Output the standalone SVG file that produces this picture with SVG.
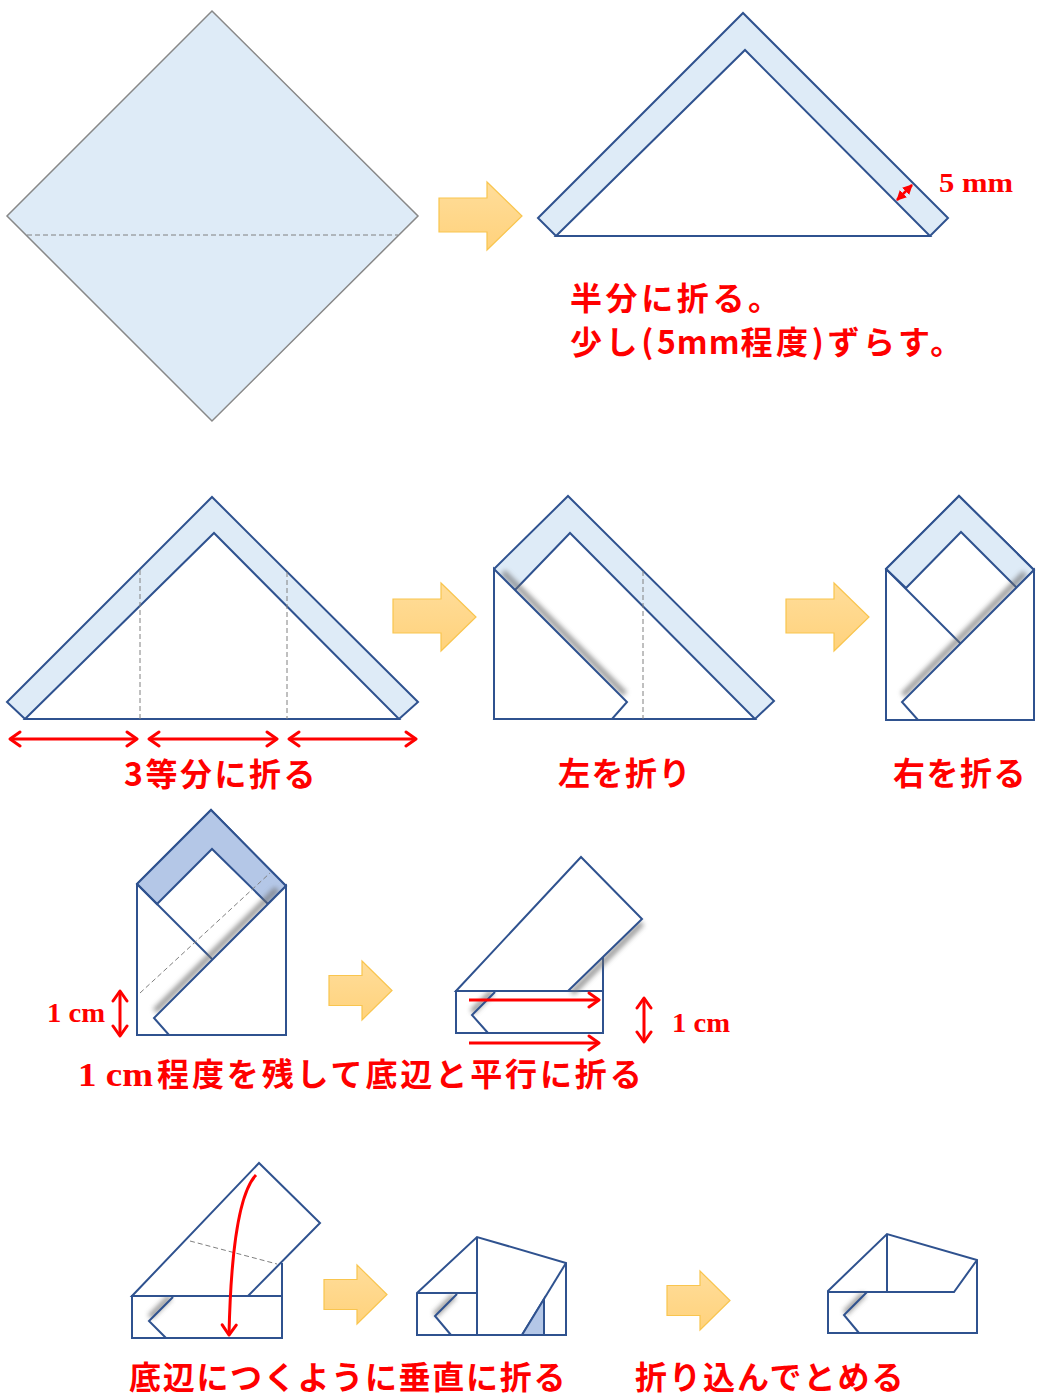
<svg xmlns="http://www.w3.org/2000/svg" width="1037" height="1397" viewBox="0 0 1037 1397">
  <style>
    .paper{fill:#DEEBF7;stroke:#2F528F;stroke-width:2;stroke-linejoin:miter}
    .dark{fill:#B4C7E7;stroke:#2F528F;stroke-width:2}
    .sheet{fill:#FFFFFF;stroke:#2F528F;stroke-width:2}
    .edge{fill:none;stroke:#2F528F;stroke-width:2}
    .crease{fill:none;stroke:#808080;stroke-width:1;stroke-dasharray:5 3}
    .red{fill:none;stroke:#FF0000;stroke-width:3}
    .jp{font-family:"Noto Sans CJK JP","Noto Sans CJK SC",sans-serif;font-weight:bold;fill:#FF0000;font-size:32px}
    .num{font-family:"Liberation Serif",serif;font-weight:bold;fill:#FF0000}
    .shade{fill:none;stroke:#6E6E6E;stroke-width:6;filter:url(#blur);opacity:.7}
    .step{fill:url(#gold);stroke:#F9C54E;stroke-width:1.2}
  </style>
  <defs>
    <linearGradient id="gold" x1="0" y1="0" x2="0" y2="1">
      <stop offset="0" stop-color="#FFDD9A"/>
      <stop offset="1" stop-color="#FFD27C"/>
    </linearGradient>
    <filter id="blur" x="-30%" y="-30%" width="160%" height="160%">
      <feGaussianBlur stdDeviation="2.5"/>
    </filter>
    <marker id="chev" viewBox="0 0 14 18" refX="12" refY="9" markerWidth="14" markerHeight="18" markerUnits="userSpaceOnUse" orient="auto-start-reverse">
      <path d="M2,2 L12,9 L2,16" fill="none" stroke="#FF0000" stroke-width="3" stroke-linecap="round" stroke-linejoin="round"/>
    </marker>
    <marker id="tri" viewBox="0 0 10 10" refX="9" refY="5" markerWidth="10" markerHeight="10" markerUnits="userSpaceOnUse" orient="auto-start-reverse">
      <path d="M0,0 L10,5 L0,10 Z" fill="#FF0000"/>
    </marker>
    <path id="bigArrow" d="M0,16 H48 V0 L83,34 L48,68 V50 H0 Z"/>
    <path id="smallArrow" d="M0,14.5 H33 V0 L63,29.5 L33,59 V44.5 H0 Z"/>
  </defs>

  <rect width="1037" height="1397" fill="#FFFFFF"/>

  <!-- step 1: square sheet with the centre crease -->
  <g id="square">
    <polygon points="212,11 418,216 212,421 7,216" fill="#DEEBF7" stroke="#888888" stroke-width="1.5"/>
    <line x1="27" y1="235" x2="398" y2="235" class="crease"/>
  </g>

  <!-- step 2: folded in half, 5 mm offset -->
  <g id="half">
    <polygon class="paper" points="538,218 743,13 948,218 930,236 556,236"/>
    <polygon class="sheet" points="556,236 745,50 930,236"/>
    <line x1="556" y1="236" x2="930" y2="236" class="edge" stroke-width="2.5"/>
    <line x1="897" y1="200" x2="912" y2="185" stroke="#FF0000" stroke-width="2.5" marker-start="url(#tri)" marker-end="url(#tri)"/>
    <text class="num" x="939" y="192" font-size="28" textLength="74" lengthAdjust="spacingAndGlyphs">5 mm</text>
    <text class="jp" x="570" y="310" letter-spacing="3.6">半分に折る。</text>
    <text class="jp" x="570" y="354" letter-spacing="3.6">少し(<tspan letter-spacing="1">5mm</tspan>程度)ずらす。</text>
  </g>

  <!-- step 3: thirds -->
  <g id="thirds">
    <polygon class="paper" points="7,702 212,497 418,702 399,719 25,719"/>
    <polygon class="sheet" points="25,719 214,533 399,719"/>
    <line x1="140" y1="570" x2="140" y2="719" class="crease"/>
    <line x1="287" y1="572" x2="287" y2="719" class="crease"/>
    <line x1="10" y1="739" x2="137" y2="739" class="red" marker-start="url(#chev)" marker-end="url(#chev)"/>
    <line x1="149" y1="739" x2="277" y2="739" class="red" marker-start="url(#chev)" marker-end="url(#chev)"/>
    <line x1="289" y1="739" x2="416" y2="739" class="red" marker-start="url(#chev)" marker-end="url(#chev)"/>
    <text class="jp" x="124" y="786" font-size="34" letter-spacing="2.5">3等分に折る</text>
  </g>

  <!-- step 4: left side folded -->
  <g id="fold-left">
    <polygon class="paper" points="494,569 568,496 774,701 755,719 494,719"/>
    <polygon class="sheet" points="515,590 570,533 755,719 494,719"/>
    <line x1="643" y1="571" x2="643" y2="719" class="crease"/>
    <line x1="500" y1="575" x2="622" y2="697" class="shade" transform="translate(3,-3)"/>
    <polygon class="sheet" points="494,569 627,702 612,719 494,719"/>
    <text class="jp" x="558" y="785" font-size="34" letter-spacing="1.5">左を折り</text>
  </g>

  <!-- step 5: right side folded -->
  <g id="fold-right">
    <polygon class="sheet" points="886,569 959,496 1034,570 1034,720 886,720"/>
    <polygon class="paper" points="886,569 959,496 1034,570 1017,588 961,532 906,588"/>
    <line x1="886" y1="569" x2="961" y2="644" class="edge"/>
    <line x1="1028" y1="576" x2="906" y2="698" class="shade" transform="translate(-3,-3)"/>
    <polygon class="sheet" points="1034,570 902,702 918,720 1034,720"/>
    <text class="jp" x="893" y="785" font-size="34" letter-spacing="1.5">右を折る</text>
  </g>

  <!-- step 6: fold up, leaving 1 cm -->
  <g id="fold-up">
    <polygon class="sheet" points="137,884 211,810 286,886 286,1035 137,1035"/>
    <polygon class="dark" points="137,884 211,810 286,886 268,904 212,849 157,904"/>
    <line x1="137" y1="884" x2="212" y2="959" class="edge"/>
    <line x1="140" y1="993" x2="270" y2="873" class="crease"/>
    <line x1="280" y1="892" x2="158" y2="1014" class="shade" transform="translate(-3,-3)"/>
    <polygon class="sheet" points="286,886 154,1018 169,1035 286,1035"/>
    <text class="num" x="47" y="1022" font-size="27" textLength="58" lengthAdjust="spacingAndGlyphs">1 cm</text>
    <line x1="120" y1="991" x2="120" y2="1036" class="red" marker-start="url(#chev)" marker-end="url(#chev)"/>
  </g>

  <!-- step 7: folded parallel to the bottom edge -->
  <g id="parallel">
    <line x1="603" y1="957" x2="603" y2="991" class="edge"/>
    <rect class="sheet" x="456" y="991" width="147" height="42"/>
    <line x1="494" y1="994" x2="474" y2="1014" class="shade" transform="translate(-2,-2)"/>
    <polyline class="edge" points="495,992 472,1015 488,1033"/>
    <line x1="640" y1="921" x2="570" y2="991" class="shade" transform="translate(2,2)"/>
    <polygon class="sheet" points="456,991 581,857 642,919 568,991"/>
    <line x1="469" y1="1000" x2="599" y2="1000" class="red" marker-end="url(#chev)"/>
    <line x1="469" y1="1043" x2="599" y2="1043" class="red" marker-end="url(#chev)"/>
    <line x1="644" y1="998" x2="644" y2="1042" class="red" marker-start="url(#chev)" marker-end="url(#chev)"/>
    <text class="num" x="672" y="1032" font-size="27" textLength="58" lengthAdjust="spacingAndGlyphs">1 cm</text>
    <text class="num" x="78" y="1086" font-size="34" textLength="75" lengthAdjust="spacingAndGlyphs">1 cm</text>
    <text class="jp" x="157" y="1086" letter-spacing="2.9">程度を残して底辺と平行に折る</text>
  </g>

  <!-- step 8: fold down square to the bottom edge -->
  <g id="vertical">
    <line x1="282" y1="1263" x2="282" y2="1296" class="edge"/>
    <rect class="sheet" x="132" y="1296" width="150" height="42"/>
    <line x1="172" y1="1299" x2="152" y2="1319" class="shade" transform="translate(-2,-2)"/>
    <polyline class="edge" points="173,1297 149,1321 166,1338"/>
    <polygon class="sheet" points="132,1296 259,1163 320,1223 248,1296"/>
    <line x1="190" y1="1241" x2="277" y2="1264" class="crease"/>
    <path d="M256,1175 Q232,1200 229,1335" class="red" stroke-width="3.5" marker-end="url(#chev)"/>
    <text class="jp" x="129" y="1389" font-size="33" letter-spacing="1.7">底辺につくように垂直に折る</text>
  </g>

  <!-- step 9: after the vertical fold -->
  <g id="folded">
    <polygon class="sheet" points="417,1293 477,1237 566,1263 566,1335 417,1335"/>
    <line x1="417" y1="1293" x2="477" y2="1293" class="edge"/>
    <line x1="477" y1="1237" x2="477" y2="1335" class="edge"/>
    <line x1="456" y1="1298" x2="437" y2="1317" class="shade" transform="translate(-2,-2)"/>
    <polyline class="edge" points="457,1294 435,1316 451,1335"/>
    <line x1="566" y1="1263" x2="522" y2="1335" class="edge"/>
    <polygon class="dark" points="544,1299 544,1335 522,1335"/>
  </g>

  <!-- step 10: tucked in -->
  <g id="tucked">
    <polygon class="sheet" points="828,1291 887,1234 977,1260 977,1333 828,1333"/>
    <line x1="887" y1="1234" x2="887" y2="1292" class="edge"/>
    <polyline class="edge" points="828,1292 954,1292 977,1260"/>
    <line x1="866" y1="1296" x2="847" y2="1315" class="shade" transform="translate(-2,-2)"/>
    <polyline class="edge" points="867,1292 844,1315 859,1333"/>
    <text class="jp" x="635" y="1389" font-size="33" letter-spacing="2">折り込んでとめる</text>
  </g>

  <!-- step arrows -->
  <g id="connectors">
    <use href="#bigArrow" class="step" transform="translate(439,182)"/>
    <use href="#bigArrow" class="step" transform="translate(393,583)"/>
    <use href="#bigArrow" class="step" transform="translate(786,583)"/>
    <use href="#smallArrow" class="step" transform="translate(329,961)"/>
    <use href="#smallArrow" class="step" transform="translate(324,1265)"/>
    <use href="#smallArrow" class="step" transform="translate(667,1271)"/>
  </g>
</svg>
